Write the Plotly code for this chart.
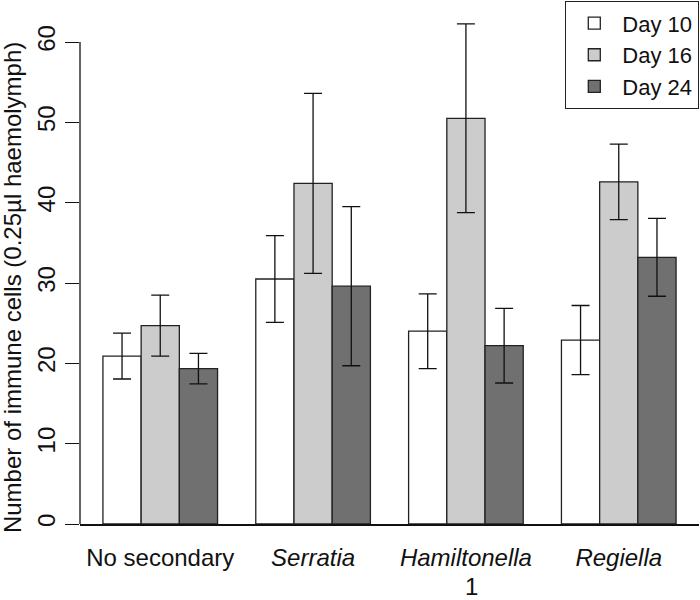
import plotly.graph_objects as go

categories = ["No secondary", "Serratia", "Hamiltonella", "Regiella"]
tick_labels = ["No secondary", "<i>Serratia</i>", "<i>Hamiltonella</i>", "<i>Regiella</i>"]
series_names = ["Day 10", "Day 16", "Day 24"]

day10_mean = [20.9, 30.5, 24.0, 22.9]
day10_err = [2.85, 5.4, 4.65, 4.3]
day16_mean = [24.7, 42.4, 50.5, 42.6]
day16_err = [3.8, 11.2, 11.75, 4.7]
day24_mean = [19.35, 29.6, 22.2, 33.2]
day24_err = [1.9, 9.9, 4.65, 4.85]

y_ticks = [0, 10, 20, 30, 40, 50, 60]

means = [day10_mean, day16_mean, day24_mean]
errs = [day10_err, day16_err, day24_err]
colors = ["#FFFFFF", "#CCCCCC", "#707070"]

FONT = "Liberation Sans, Arial, sans-serif"

fig = go.Figure()
for name, m, e, c in zip(series_names, means, errs, colors):
    fig.add_trace(go.Bar(
        x=categories, y=m, name=name,
        marker=dict(color=c, line=dict(color="#222222", width=1.3)),
        error_y=dict(type="data", array=e, visible=True, color="#111111",
                     thickness=1.3, width=9),
    ))

fig.add_shape(type="line", xref="paper", yref="y", x0=0, x1=0, y0=0, y1=60,
              line=dict(color="#111111", width=1.3))

fig.add_annotation(text="Number of immune cells (0.25µl haemolymph)",
                   xref="paper", yref="paper", x=-0.11, y=0.452,
                   xanchor="center", yanchor="middle",
                   textangle=-90, showarrow=False,
                   font=dict(size=24, color="#111111", family=FONT))
fig.add_annotation(text="1", xref="paper", yref="paper", x=0.632, y=-0.12,
                   xanchor="center", yanchor="middle",
                   showarrow=False, font=dict(size=24, color="#111111", family=FONT))

fig.update_layout(
    width=700, height=600,
    margin=dict(l=80, r=1, t=0, b=76, autoexpand=False),
    paper_bgcolor="white", plot_bgcolor="white",
    barmode="group", bargap=0.25, bargroupgap=0,
    font=dict(family=FONT, size=24, color="#111111"),
    showlegend=True,
    legend=dict(x=1, xanchor="right", y=0.998, yanchor="top",
                bordercolor="#222222", borderwidth=1.3, bgcolor="white",
                font=dict(size=22), tracegroupgap=0, itemwidth=46),
    xaxis=dict(type="category", range=[-0.525, 3.525], automargin=False,
               tickvals=categories, ticktext=tick_labels,
               showline=True, linecolor="#111111", linewidth=1.5,
               ticks="", showgrid=False, zeroline=False,
               ticklabelstandoff=11),
    yaxis=dict(range=[0, 65.23], tickvals=y_ticks, automargin=False,
               showline=False, showgrid=False, zeroline=False,
               ticks="outside", ticklen=14, tickcolor="#111111", tickwidth=1.3,
               tickangle=-90, ticklabelstandoff=0),
)

fig.write_html("out.html", config={"displayModeBar": False},
               post_script="document.body.style.margin='0';")
